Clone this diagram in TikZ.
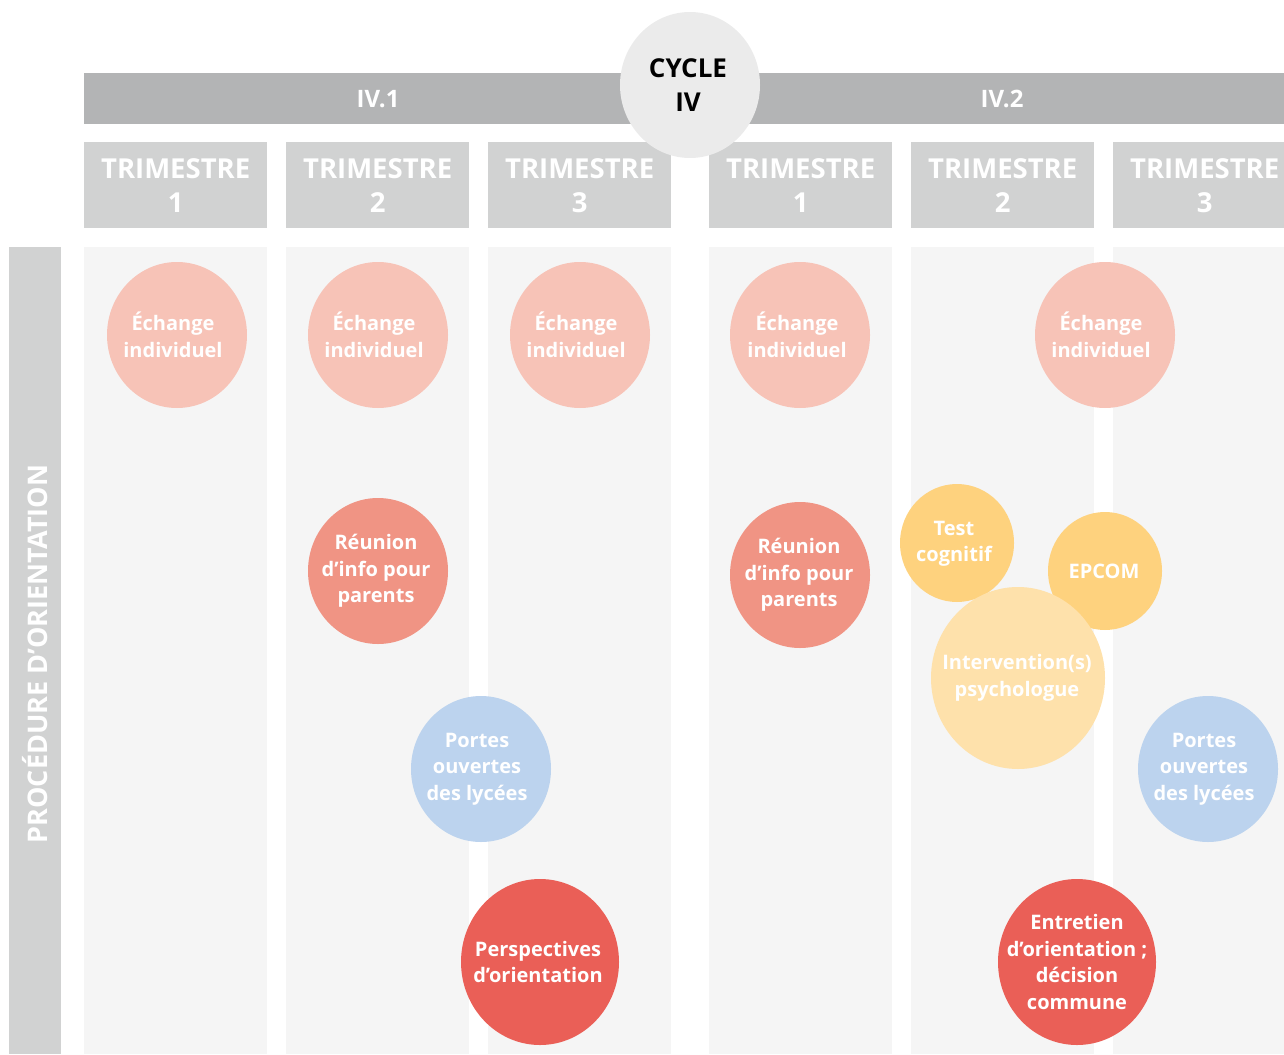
\documentclass[tikz,border=0pt]{standalone}
\usepackage{fontspec}
\setmainfont{Open Sans}
\usetikzlibrary{shapes.geometric}
\definecolor{barG}{HTML}{B3B4B5}
\definecolor{triG}{HTML}{D1D2D2}
\definecolor{colG}{HTML}{F5F5F5}
\definecolor{cycG}{HTML}{EBEBEB}
\definecolor{echC}{HTML}{F7C3B7}
\definecolor{reuC}{HTML}{F09484}
\definecolor{porC}{HTML}{BCD3EE}
\definecolor{perC}{HTML}{EA5F57}
\definecolor{tstC}{HTML}{FED27E}
\definecolor{intC}{HTML}{FEE1AB}
\tikzset{
  blob/.style={ellipse, inner sep=0pt, draw=none},
  blobtxt/.style={inner sep=0pt, text=white, font=\bfseries\fontsize{20}{26.5}\selectfont, align=center},
  trim/.style={fill=triG, minimum width=183pt, minimum height=86pt, inner sep=0pt, text=white, font=\bfseries\fontsize{27.5}{34}\selectfont, align=center, anchor=north west},
}
\begin{document}
\begin{tikzpicture}[x=1pt,y=-1pt]
\useasboundingbox (0,0) rectangle (1284,1054);
% header bar
\fill[barG] (84,73) rectangle (1284,124);
\node[text=white, font=\bfseries\fontsize{24}{28}\selectfont] (iv1) at (378,99) {IV.1};
\node[text=white, font=\bfseries\fontsize{24}{28}\selectfont] (iv2) at (1002,99) {IV.2};
% columns
\foreach \x in {84,286,488,709,911,1113} {
  \fill[colG] (\x,247) rectangle ++(183,807);
}
\node[trim] (t1) at (84,142) {TRIMESTRE\\1};
\node[trim] (t2) at (286,142) {TRIMESTRE\\2};
\node[trim] (t3) at (488,142) {TRIMESTRE\\3};
\node[trim] (t4) at (709,142) {TRIMESTRE\\1};
\node[trim] (t5) at (911,142) {TRIMESTRE\\2};
\node[trim] (t6) at (1113,142) {TRIMESTRE\\3};
% cycle circle
\node[ellipse, fill=cycG, minimum width=140pt, minimum height=146pt, inner sep=0pt] (cyc) at (690,85) {};
\node[align=center, font=\bfseries\fontsize{26}{34}\selectfont, inner sep=0pt] (cyct) at (688,85) {CYCLE\\IV};
% left bar
\fill[triG] (9,247) rectangle (61,1054);
\node[rotate=90, text=white, font=\bfseries\fontsize{27}{30}\selectfont] (proc) at (35,654) {PROCÉDURE D’ORIENTATION};
% blobs
\foreach \n/\x/\y/\c/\w/\h in {e1/177/335/echC/140/146, e2/378/335/echC/140/146, e3/580/335/echC/140/146, e4/800/335/echC/140/146, e6/1105/335/echC/140/146, r2/378/571/reuC/140/146, r4/800/575/reuC/140/146, p3/481/769/porC/140/146, p6/1208/769/porC/140/146, pe/540/962/perC/158/166, tc/957/543/tstC/114/118, ep/1105/571/tstC/114/118, ip/1018/678/intC/174/182, en/1077/962/perC/158/166} {
  \node[blob, fill=\c, minimum width=\w pt, minimum height=\h pt] (\n) at (\x,\y) {};
}
\node[blobtxt] (e1t) at (173,335) {Échange\\individuel};
\node[blobtxt] (e2t) at (374,335) {Échange\\individuel};
\node[blobtxt] (e3t) at (576,335) {Échange\\individuel};
\node[blobtxt] (e4t) at (797,335) {Échange\\individuel};
\node[blobtxt] (e6t) at (1101,335) {Échange\\individuel};
\node[blobtxt] (r2t) at (376,571) {Réunion\\d’info pour\\parents};
\node[blobtxt] (r4t) at (799,575) {Réunion\\d’info pour\\parents};
\node[blobtxt] (p3t) at (477,769) {Portes\\ouvertes\\des lycées};
\node[blobtxt] (p6t) at (1204,769) {Portes\\ouvertes\\des lycées};
\node[blobtxt] (pet) at (538,962) {Perspectives\\d’orientation};
\node[blobtxt] (tct) at (954,544) {Test\\cognitif};
\node[blobtxt] (ept) at (1104,571) {EPCOM};
\node[blobtxt] (ipt) at (1017,678) {Intervention(s)\\psychologue};
\node[blobtxt] (ent) at (1077,962) {Entretien\\d’orientation ;\\décision\\commune};
\end{tikzpicture}
\end{document}
